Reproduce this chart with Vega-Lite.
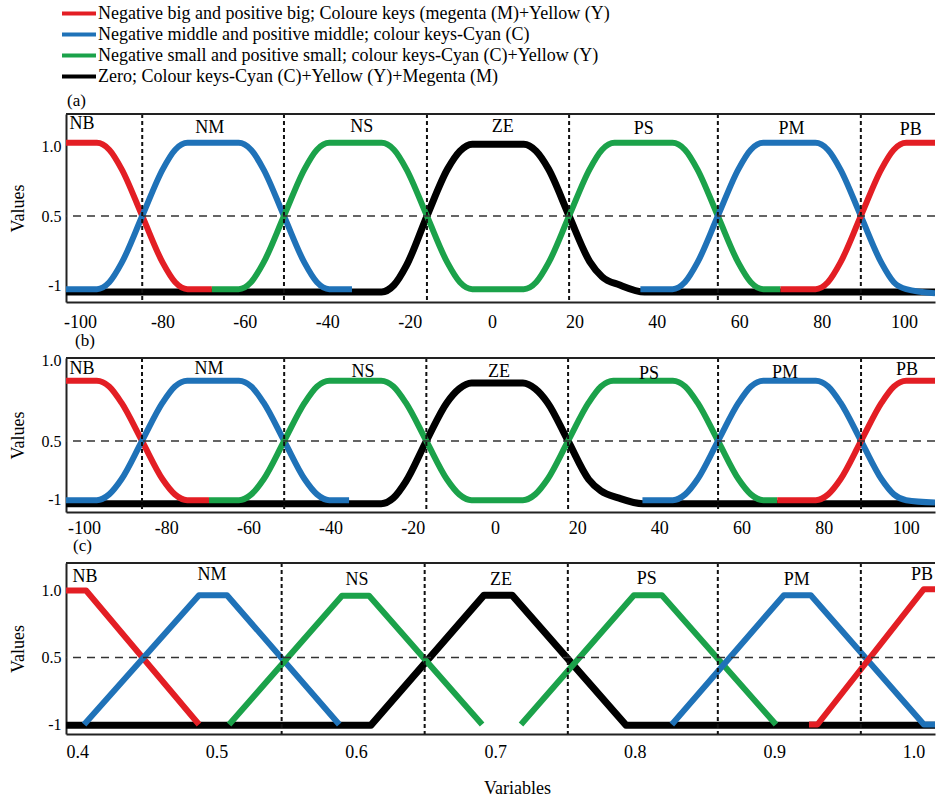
{
  "$schema": "https://vega.github.io/schema/vega-lite/v6.json",
  "padding": {"left": 9, "top": 3, "right": 0, "bottom": 0},
  "spacing": 0,
  "config": {
    "font": "Liberation Serif",
    "view": {"stroke": null},
    "axis": {"labelFont": "Liberation Serif", "titleFont": "Liberation Serif", "labelColor": "#000", "titleColor": "#000", "titleFontWeight": "normal", "grid": false, "ticks": false, "domainColor": "#222", "domainWidth": 2},
    "axisY": {"labelFontSize": 16, "titleFontSize": 18, "labelPadding": 5, "titlePadding": 14},
    "axisX": {"labelFontSize": 18, "titleFontSize": 18},
    "title": {"font": "Liberation Serif", "fontWeight": "normal", "fontSize": 17, "anchor": "start", "frame": "group", "color": "#000"},
    "legend": {"symbolType": "M-2,0H2", "symbolSize": 289, "symbolStrokeWidth": 4, "labelFont": "Liberation Serif", "labelFontSize": 18, "labelColor": "#000", "labelLimit": 0, "labelOffset": 8.5, "rowPadding": 1, "padding": 0}
  },
  "datasets": {
    "curvesA": [
      {"seg":"NB","s":"big","v":-103.4,"u":1.03},{"seg":"NB","s":"big","v":-95.9,"u":1.03},{"seg":"NB","s":"big","v":-92.9,"u":0.98},{"seg":"NB","s":"big","v":-89.9,"u":0.84},{"seg":"NB","s":"big","v":-84.9,"u":0.5},{"seg":"NB","s":"big","v":-79.9,"u":0.16},{"seg":"NB","s":"big","v":-76.9,"u":0.02},{"seg":"NB","s":"big","v":-73.9,"u":-0.03},{"seg":"NB","s":"big","v":-68,"u":-0.03},
      {"seg":"NM","s":"middle","v":-103.4,"u":-0.03},{"seg":"NM","s":"middle","v":-95.9,"u":-0.03},{"seg":"NM","s":"middle","v":-92.9,"u":0.02},{"seg":"NM","s":"middle","v":-89.9,"u":0.16},{"seg":"NM","s":"middle","v":-84.9,"u":0.5},{"seg":"NM","s":"middle","v":-79.9,"u":0.84},{"seg":"NM","s":"middle","v":-76.9,"u":0.98},{"seg":"NM","s":"middle","v":-73.9,"u":1.03},{"seg":"NM","s":"middle","v":-61.5,"u":1.03},{"seg":"NM","s":"middle","v":-58.5,"u":0.98},{"seg":"NM","s":"middle","v":-55.5,"u":0.84},{"seg":"NM","s":"middle","v":-50.5,"u":0.5},{"seg":"NM","s":"middle","v":-45.5,"u":0.16},{"seg":"NM","s":"middle","v":-42.5,"u":0.02},{"seg":"NM","s":"middle","v":-39.5,"u":-0.03},{"seg":"NM","s":"middle","v":-34,"u":-0.03},
      {"seg":"NSPS","s":"small","v":-68,"u":-0.03},{"seg":"NSPS","s":"small","v":-61.5,"u":-0.03},{"seg":"NSPS","s":"small","v":-58.5,"u":0.02},{"seg":"NSPS","s":"small","v":-55.5,"u":0.16},{"seg":"NSPS","s":"small","v":-50.5,"u":0.5},{"seg":"NSPS","s":"small","v":-45.5,"u":0.84},{"seg":"NSPS","s":"small","v":-42.5,"u":0.98},{"seg":"NSPS","s":"small","v":-39.5,"u":1.03},{"seg":"NSPS","s":"small","v":-26.8,"u":1.03},{"seg":"NSPS","s":"small","v":-23.8,"u":0.98},{"seg":"NSPS","s":"small","v":-20.8,"u":0.84},{"seg":"NSPS","s":"small","v":-15.8,"u":0.5},{"seg":"NSPS","s":"small","v":-10.8,"u":0.16},{"seg":"NSPS","s":"small","v":-7.8,"u":0.02},{"seg":"NSPS","s":"small","v":-4.8,"u":-0.03},{"seg":"NSPS","s":"small","v":7.7,"u":-0.03},{"seg":"NSPS","s":"small","v":10.7,"u":0.02},{"seg":"NSPS","s":"small","v":13.7,"u":0.16},{"seg":"NSPS","s":"small","v":18.7,"u":0.5},{"seg":"NSPS","s":"small","v":23.7,"u":0.84},{"seg":"NSPS","s":"small","v":26.7,"u":0.98},{"seg":"NSPS","s":"small","v":29.7,"u":1.03},{"seg":"NSPS","s":"small","v":43.8,"u":1.03},{"seg":"NSPS","s":"small","v":46.8,"u":0.98},{"seg":"NSPS","s":"small","v":49.8,"u":0.84},{"seg":"NSPS","s":"small","v":54.8,"u":0.5},{"seg":"NSPS","s":"small","v":59.8,"u":0.16},{"seg":"NSPS","s":"small","v":62.8,"u":0.02},{"seg":"NSPS","s":"small","v":65.8,"u":-0.03},{"seg":"NSPS","s":"small","v":70,"u":-0.03},
      {"seg":"ZE","s":"zero","v":-103.4,"u":-0.05},{"seg":"ZE","s":"zero","v":-26.8,"u":-0.05},{"seg":"ZE","s":"zero","v":-23.8,"u":0.0},{"seg":"ZE","s":"zero","v":-20.8,"u":0.14},{"seg":"ZE","s":"zero","v":-15.8,"u":0.5},{"seg":"ZE","s":"zero","v":-10.8,"u":0.84},{"seg":"ZE","s":"zero","v":-7.8,"u":0.97},{"seg":"ZE","s":"zero","v":-4.8,"u":1.02},{"seg":"ZE","s":"zero","v":7.7,"u":1.02},{"seg":"ZE","s":"zero","v":10.7,"u":0.97},{"seg":"ZE","s":"zero","v":13.7,"u":0.84},{"seg":"ZE","s":"zero","v":18.7,"u":0.5},{"seg":"ZE","s":"zero","v":23.7,"u":0.17},{"seg":"ZE","s":"zero","v":26.7,"u":0.06},{"seg":"ZE","s":"zero","v":31,"u":0.0},{"seg":"ZE","s":"zero","v":37,"u":-0.05},{"seg":"ZE","s":"zero","v":107.5,"u":-0.05},
      {"seg":"PM","s":"middle","v":36,"u":-0.03},{"seg":"PM","s":"middle","v":43.8,"u":-0.03},{"seg":"PM","s":"middle","v":46.8,"u":0.02},{"seg":"PM","s":"middle","v":49.8,"u":0.16},{"seg":"PM","s":"middle","v":54.8,"u":0.5},{"seg":"PM","s":"middle","v":59.8,"u":0.84},{"seg":"PM","s":"middle","v":62.8,"u":0.98},{"seg":"PM","s":"middle","v":65.8,"u":1.03},{"seg":"PM","s":"middle","v":78.5,"u":1.03},{"seg":"PM","s":"middle","v":81.5,"u":0.98},{"seg":"PM","s":"middle","v":84.5,"u":0.84},{"seg":"PM","s":"middle","v":89.5,"u":0.5},{"seg":"PM","s":"middle","v":94.5,"u":0.16},{"seg":"PM","s":"middle","v":97.5,"u":0.02},{"seg":"PM","s":"middle","v":100.5,"u":-0.03},{"seg":"PM","s":"middle","v":107.5,"u":-0.06},
      {"seg":"PB","s":"big","v":70,"u":-0.03},{"seg":"PB","s":"big","v":78.5,"u":-0.03},{"seg":"PB","s":"big","v":81.5,"u":0.02},{"seg":"PB","s":"big","v":84.5,"u":0.16},{"seg":"PB","s":"big","v":89.5,"u":0.5},{"seg":"PB","s":"big","v":94.5,"u":0.84},{"seg":"PB","s":"big","v":97.5,"u":0.98},{"seg":"PB","s":"big","v":100.5,"u":1.03},{"seg":"PB","s":"big","v":107.5,"u":1.03}
    ],
    "curvesB": [
      {"seg":"NB","s":"big","v":-104.4,"u":1.02},{"seg":"NB","s":"big","v":-96.9,"u":1.02},{"seg":"NB","s":"big","v":-93.9,"u":0.97},{"seg":"NB","s":"big","v":-90.9,"u":0.83},{"seg":"NB","s":"big","v":-85.9,"u":0.5},{"seg":"NB","s":"big","v":-80.9,"u":0.17},{"seg":"NB","s":"big","v":-77.9,"u":0.04},{"seg":"NB","s":"big","v":-74.9,"u":-0.01},{"seg":"NB","s":"big","v":-69.6,"u":-0.01},
      {"seg":"NM","s":"middle","v":-104.4,"u":-0.01},{"seg":"NM","s":"middle","v":-96.9,"u":-0.01},{"seg":"NM","s":"middle","v":-93.9,"u":0.04},{"seg":"NM","s":"middle","v":-90.9,"u":0.17},{"seg":"NM","s":"middle","v":-85.9,"u":0.5},{"seg":"NM","s":"middle","v":-80.9,"u":0.83},{"seg":"NM","s":"middle","v":-77.9,"u":0.97},{"seg":"NM","s":"middle","v":-74.9,"u":1.02},{"seg":"NM","s":"middle","v":-62.3,"u":1.02},{"seg":"NM","s":"middle","v":-59.3,"u":0.97},{"seg":"NM","s":"middle","v":-56.3,"u":0.83},{"seg":"NM","s":"middle","v":-51.3,"u":0.5},{"seg":"NM","s":"middle","v":-46.3,"u":0.17},{"seg":"NM","s":"middle","v":-43.3,"u":0.04},{"seg":"NM","s":"middle","v":-40.3,"u":-0.01},{"seg":"NM","s":"middle","v":-35.5,"u":-0.01},
      {"seg":"NSPS","s":"small","v":-69.6,"u":-0.01},{"seg":"NSPS","s":"small","v":-62.3,"u":-0.01},{"seg":"NSPS","s":"small","v":-59.3,"u":0.04},{"seg":"NSPS","s":"small","v":-56.3,"u":0.17},{"seg":"NSPS","s":"small","v":-51.3,"u":0.5},{"seg":"NSPS","s":"small","v":-46.3,"u":0.83},{"seg":"NSPS","s":"small","v":-43.3,"u":0.97},{"seg":"NSPS","s":"small","v":-40.3,"u":1.02},{"seg":"NSPS","s":"small","v":-27.7,"u":1.02},{"seg":"NSPS","s":"small","v":-24.7,"u":0.97},{"seg":"NSPS","s":"small","v":-21.7,"u":0.83},{"seg":"NSPS","s":"small","v":-16.7,"u":0.5},{"seg":"NSPS","s":"small","v":-11.7,"u":0.17},{"seg":"NSPS","s":"small","v":-8.7,"u":0.04},{"seg":"NSPS","s":"small","v":-5.7,"u":-0.01},{"seg":"NSPS","s":"small","v":6.8,"u":-0.01},{"seg":"NSPS","s":"small","v":9.8,"u":0.04},{"seg":"NSPS","s":"small","v":12.8,"u":0.17},{"seg":"NSPS","s":"small","v":17.8,"u":0.5},{"seg":"NSPS","s":"small","v":22.8,"u":0.83},{"seg":"NSPS","s":"small","v":25.8,"u":0.97},{"seg":"NSPS","s":"small","v":28.8,"u":1.02},{"seg":"NSPS","s":"small","v":43.3,"u":1.02},{"seg":"NSPS","s":"small","v":46.3,"u":0.97},{"seg":"NSPS","s":"small","v":49.3,"u":0.83},{"seg":"NSPS","s":"small","v":54.3,"u":0.5},{"seg":"NSPS","s":"small","v":59.3,"u":0.17},{"seg":"NSPS","s":"small","v":62.3,"u":0.04},{"seg":"NSPS","s":"small","v":65.3,"u":-0.01},{"seg":"NSPS","s":"small","v":68.7,"u":-0.01},
      {"seg":"ZE","s":"zero","v":-104.4,"u":-0.04},{"seg":"ZE","s":"zero","v":-27.7,"u":-0.04},{"seg":"ZE","s":"zero","v":-24.7,"u":0.01},{"seg":"ZE","s":"zero","v":-21.7,"u":0.15},{"seg":"ZE","s":"zero","v":-16.7,"u":0.5},{"seg":"ZE","s":"zero","v":-11.7,"u":0.83},{"seg":"ZE","s":"zero","v":-8.7,"u":0.95},{"seg":"ZE","s":"zero","v":-5.7,"u":1.0},{"seg":"ZE","s":"zero","v":6.8,"u":1.0},{"seg":"ZE","s":"zero","v":9.8,"u":0.95},{"seg":"ZE","s":"zero","v":12.8,"u":0.83},{"seg":"ZE","s":"zero","v":17.8,"u":0.5},{"seg":"ZE","s":"zero","v":22.8,"u":0.17},{"seg":"ZE","s":"zero","v":25.8,"u":0.07},{"seg":"ZE","s":"zero","v":30,"u":0.01},{"seg":"ZE","s":"zero","v":36,"u":-0.04},{"seg":"ZE","s":"zero","v":107.1,"u":-0.04},
      {"seg":"PM","s":"middle","v":35.9,"u":-0.01},{"seg":"PM","s":"middle","v":43.3,"u":-0.01},{"seg":"PM","s":"middle","v":46.3,"u":0.04},{"seg":"PM","s":"middle","v":49.3,"u":0.17},{"seg":"PM","s":"middle","v":54.3,"u":0.5},{"seg":"PM","s":"middle","v":59.3,"u":0.83},{"seg":"PM","s":"middle","v":62.3,"u":0.97},{"seg":"PM","s":"middle","v":65.3,"u":1.02},{"seg":"PM","s":"middle","v":78.1,"u":1.02},{"seg":"PM","s":"middle","v":81.1,"u":0.97},{"seg":"PM","s":"middle","v":84.1,"u":0.83},{"seg":"PM","s":"middle","v":89.1,"u":0.5},{"seg":"PM","s":"middle","v":94.1,"u":0.17},{"seg":"PM","s":"middle","v":97.1,"u":0.04},{"seg":"PM","s":"middle","v":100.1,"u":-0.01},{"seg":"PM","s":"middle","v":107.1,"u":-0.03},
      {"seg":"PB","s":"big","v":68.7,"u":-0.01},{"seg":"PB","s":"big","v":78.1,"u":-0.01},{"seg":"PB","s":"big","v":81.1,"u":0.04},{"seg":"PB","s":"big","v":84.1,"u":0.17},{"seg":"PB","s":"big","v":89.1,"u":0.5},{"seg":"PB","s":"big","v":94.1,"u":0.83},{"seg":"PB","s":"big","v":97.1,"u":0.97},{"seg":"PB","s":"big","v":100.1,"u":1.02},{"seg":"PB","s":"big","v":107.1,"u":1.02}
    ],
    "curvesC": [
      {"seg":"NB","s":"big","v":0.392,"u":1.0},{"seg":"NB","s":"big","v":0.4064,"u":1.0},{"seg":"NB","s":"big","v":0.4874,"u":0.0},
      {"seg":"NM","s":"middle","v":0.405,"u":0.0},{"seg":"NM","s":"middle","v":0.4874,"u":0.965},{"seg":"NM","s":"middle","v":0.5075,"u":0.965},{"seg":"NM","s":"middle","v":0.588,"u":0.0},
      {"seg":"NS","s":"small","v":0.509,"u":0.0},{"seg":"NS","s":"small","v":0.59,"u":0.96},{"seg":"NS","s":"small","v":0.6094,"u":0.96},{"seg":"NS","s":"small","v":0.6905,"u":0.0},
      {"seg":"ZE","s":"zero","v":0.392,"u":-0.005},{"seg":"ZE","s":"zero","v":0.6108,"u":-0.005},{"seg":"ZE","s":"zero","v":0.6919,"u":0.965},{"seg":"ZE","s":"zero","v":0.712,"u":0.965},{"seg":"ZE","s":"zero","v":0.7937,"u":-0.005},{"seg":"ZE","s":"zero","v":1.0154,"u":-0.005},
      {"seg":"PS","s":"small","v":0.7184,"u":0.0},{"seg":"PS","s":"small","v":0.7994,"u":0.965},{"seg":"PS","s":"small","v":0.8195,"u":0.965},{"seg":"PS","s":"small","v":0.9013,"u":0.0},
      {"seg":"PM","s":"middle","v":0.8266,"u":0.0},{"seg":"PM","s":"middle","v":0.907,"u":0.965},{"seg":"PM","s":"middle","v":0.9263,"u":0.965},{"seg":"PM","s":"middle","v":1.0074,"u":0.0},{"seg":"PM","s":"middle","v":1.0154,"u":0.0},
      {"seg":"PB","s":"big","v":0.925,"u":0.0},{"seg":"PB","s":"big","v":0.9311,"u":0.0},{"seg":"PB","s":"big","v":1.0074,"u":1.01},{"seg":"PB","s":"big","v":1.0154,"u":1.01}
    ],
    "vA": [{"v":-84.9},{"v":-50.5},{"v":-15.8},{"v":18.7},{"v":54.8},{"v":89.5}],
    "vB": [{"v":-85.9},{"v":-51.3},{"v":-16.7},{"v":17.8},{"v":54.3},{"v":89.1}],
    "vC": [{"v":0.5467},{"v":0.6493},{"v":0.752},{"v":0.8596},{"v":0.9622}],
    "labA": [{"t":"NB","v":-99.5,"u":1.17},{"t":"NM","v":-68.5,"u":1.14},{"t":"NS","v":-31.6,"u":1.145},{"t":"ZE","v":2.6,"u":1.145},{"t":"PS","v":36.8,"u":1.13},{"t":"PM","v":72.7,"u":1.13},{"t":"PB","v":101.6,"u":1.125}],
    "labB": [{"t":"NB","v":-100.5,"u":1.12},{"t":"NM","v":-69.6,"u":1.12},{"t":"NS","v":-32.1,"u":1.095},{"t":"ZE","v":1.0,"u":1.095},{"t":"PS","v":37.5,"u":1.08},{"t":"PM","v":70.6,"u":1.086},{"t":"PB","v":100.3,"u":1.11}],
    "labC": [{"t":"NB","v":0.4057,"u":1.1},{"t":"NM","v":0.4968,"u":1.116},{"t":"NS","v":0.6008,"u":1.078},{"t":"ZE","v":0.7041,"u":1.078},{"t":"PS","v":0.8087,"u":1.086},{"t":"PM","v":0.9163,"u":1.078},{"t":"PB","v":1.006,"u":1.116}]
  },
  "vconcat": [
    {
      "title": {"text": "(a)", "offset": 3, "dx": 1},
      "width": 869, "height": 188,
      "layer": [
        {
          "data": {"name": "curvesA"},
          "transform": [{"filter": "datum.s == 'zero'"}],
          "mark": {"type": "line", "interpolate": "monotone", "strokeWidth": 7, "clip": true, "strokeJoin": "round"},
          "encoding": {
            "x": {"field": "v", "type": "quantitative", "scale": {"domain": [-103.4, 107.5], "nice": false, "zero": false}, "axis": {"values": [-100,-80,-60,-40,-20,0,20,40,60,80,100], "labelExpr": "'' + datum.value", "labelPadding": 11, "title": null}},
            "y": {"field": "u", "type": "quantitative", "scale": {"domain": [-0.123, 1.239], "nice": false, "zero": false}, "axis": {"values": [0, 0.5, 1], "labelExpr": "datum.value == 0 ? '-1' : datum.value == 0.5 ? '0.5' : '1.0'", "title": "Values"}},
            "detail": {"field": "seg"},
            "color": {"field": "s", "type": "nominal", "scale": {"domain": ["big","middle","small","zero"], "range": ["#e31e24","#1f72b8","#1ba24a","#000000"]}, "legend": {"title": null, "orient": "none", "legendX": 2.5, "legendY": -111, "direction": "vertical", "labelExpr": "datum.label == 'big' ? 'Negative big and positive big; Coloure keys (megenta (M)+Yellow (Y)' : datum.label == 'middle' ? 'Negative middle and positive middle; colour keys-Cyan (C)' : datum.label == 'small' ? 'Negative small and positive small; colour keys-Cyan (C)+Yellow (Y)' : 'Zero; Colour keys-Cyan (C)+Yellow (Y)+Megenta (M)'"}}
          }
        },
        {
          "data": {"name": "curvesA"},
          "transform": [{"filter": "datum.s != 'zero'"}],
          "mark": {"type": "line", "interpolate": "monotone", "strokeWidth": 6, "clip": true, "strokeJoin": "round"},
          "encoding": {
            "x": {"field": "v", "type": "quantitative", "scale": {"domain": [-103.4, 107.5], "nice": false, "zero": false}, "axis": {"values": [-100,-80,-60,-40,-20,0,20,40,60,80,100], "labelExpr": "'' + datum.value", "labelPadding": 11, "title": null}},
            "y": {"field": "u", "type": "quantitative", "scale": {"domain": [-0.123, 1.239], "nice": false, "zero": false}, "axis": {"values": [0, 0.5, 1], "labelExpr": "datum.value == 0 ? '-1' : datum.value == 0.5 ? '0.5' : '1.0'", "title": "Values"}},
            "detail": {"field": "seg"},
            "color": {"field": "s", "type": "nominal", "scale": {"domain": ["big","middle","small","zero"], "range": ["#e31e24","#1f72b8","#1ba24a","#000000"]}, "legend": {"title": null, "orient": "none", "legendX": 2.5, "legendY": -111, "direction": "vertical", "labelExpr": "datum.label == 'big' ? 'Negative big and positive big; Coloure keys (megenta (M)+Yellow (Y)' : datum.label == 'middle' ? 'Negative middle and positive middle; colour keys-Cyan (C)' : datum.label == 'small' ? 'Negative small and positive small; colour keys-Cyan (C)+Yellow (Y)' : 'Zero; Colour keys-Cyan (C)+Yellow (Y)+Megenta (M)'"}}
          }
        },
        {
          "data": {"name": "vA"},
          "mark": {"type": "rule", "strokeDash": [4, 3], "strokeWidth": 2, "color": "#111"},
          "encoding": {"x": {"field": "v", "type": "quantitative", "scale": {"domain": [-103.4, 107.5], "nice": false, "zero": false}, "axis": {"values": [-100,-80,-60,-40,-20,0,20,40,60,80,100], "labelExpr": "'' + datum.value", "labelPadding": 11, "title": null}}}
        },
        {
          "data": {"values": [{}]},
          "mark": {"type": "rule", "strokeDash": [8, 6], "strokeWidth": 1.5, "color": "#333"},
          "encoding": {"y": {"datum": 0.5, "type": "quantitative", "scale": {"domain": [-0.123, 1.239], "nice": false, "zero": false}, "axis": {"values": [0, 0.5, 1], "labelExpr": "datum.value == 0 ? '-1' : datum.value == 0.5 ? '0.5' : '1.0'", "title": "Values"}}}
        },
        {
          "data": {"values": [{}]},
          "mark": {"type": "rule", "strokeWidth": 2, "color": "#222"},
          "encoding": {"y": {"datum": 1.239, "type": "quantitative", "scale": {"domain": [-0.123, 1.239], "nice": false, "zero": false}, "axis": {"values": [0, 0.5, 1], "labelExpr": "datum.value == 0 ? '-1' : datum.value == 0.5 ? '0.5' : '1.0'", "title": "Values"}}}
        },
        {
          "data": {"name": "labA"},
          "mark": {"type": "text", "font": "Liberation Serif", "fontSize": 18, "color": "#000", "baseline": "middle"},
          "encoding": {
            "x": {"field": "v", "type": "quantitative", "scale": {"domain": [-103.4, 107.5], "nice": false, "zero": false}, "axis": {"values": [-100,-80,-60,-40,-20,0,20,40,60,80,100], "labelExpr": "'' + datum.value", "labelPadding": 11, "title": null}},
            "y": {"field": "u", "type": "quantitative", "scale": {"domain": [-0.123, 1.239], "nice": false, "zero": false}, "axis": {"values": [0, 0.5, 1], "labelExpr": "datum.value == 0 ? '-1' : datum.value == 0.5 ? '0.5' : '1.0'", "title": "Values"}},
            "text": {"field": "t"}
          }
        }
      ]
    },
    {
      "title": {"text": "(b)", "offset": 3, "dx": 9},
      "width": 869, "height": 154,
      "layer": [
        {
          "data": {"name": "curvesB"},
          "transform": [{"filter": "datum.s == 'zero'"}],
          "mark": {"type": "line", "interpolate": "monotone", "strokeWidth": 7, "clip": true, "strokeJoin": "round"},
          "encoding": {
            "x": {"field": "v", "type": "quantitative", "scale": {"domain": [-104.4, 107.1], "nice": false, "zero": false}, "axis": {"values": [-100,-80,-60,-40,-20,0,20,40,60,80,100], "labelExpr": "'' + datum.value", "labelPadding": 7, "title": null}},
            "y": {"field": "u", "type": "quantitative", "scale": {"domain": [-0.112, 1.2155], "nice": false, "zero": false}, "axis": {"values": [0, 0.5, 1.19], "labelExpr": "datum.value == 0 ? '-1' : datum.value == 0.5 ? '0.5' : '1.0'", "title": "Values"}},
            "detail": {"field": "seg"},
            "color": {"field": "s", "type": "nominal", "scale": {"domain": ["big","middle","small","zero"], "range": ["#e31e24","#1f72b8","#1ba24a","#000000"]}, "legend": {"title": null, "orient": "none", "legendX": 2.5, "legendY": -111, "direction": "vertical", "labelExpr": "datum.label == 'big' ? 'Negative big and positive big; Coloure keys (megenta (M)+Yellow (Y)' : datum.label == 'middle' ? 'Negative middle and positive middle; colour keys-Cyan (C)' : datum.label == 'small' ? 'Negative small and positive small; colour keys-Cyan (C)+Yellow (Y)' : 'Zero; Colour keys-Cyan (C)+Yellow (Y)+Megenta (M)'"}}
          }
        },
        {
          "data": {"name": "curvesB"},
          "transform": [{"filter": "datum.s != 'zero'"}],
          "mark": {"type": "line", "interpolate": "monotone", "strokeWidth": 6, "clip": true, "strokeJoin": "round"},
          "encoding": {
            "x": {"field": "v", "type": "quantitative", "scale": {"domain": [-104.4, 107.1], "nice": false, "zero": false}, "axis": {"values": [-100,-80,-60,-40,-20,0,20,40,60,80,100], "labelExpr": "'' + datum.value", "labelPadding": 7, "title": null}},
            "y": {"field": "u", "type": "quantitative", "scale": {"domain": [-0.112, 1.2155], "nice": false, "zero": false}, "axis": {"values": [0, 0.5, 1.19], "labelExpr": "datum.value == 0 ? '-1' : datum.value == 0.5 ? '0.5' : '1.0'", "title": "Values"}},
            "detail": {"field": "seg"},
            "color": {"field": "s", "type": "nominal", "scale": {"domain": ["big","middle","small","zero"], "range": ["#e31e24","#1f72b8","#1ba24a","#000000"]}, "legend": {"title": null, "orient": "none", "legendX": 2.5, "legendY": -111, "direction": "vertical", "labelExpr": "datum.label == 'big' ? 'Negative big and positive big; Coloure keys (megenta (M)+Yellow (Y)' : datum.label == 'middle' ? 'Negative middle and positive middle; colour keys-Cyan (C)' : datum.label == 'small' ? 'Negative small and positive small; colour keys-Cyan (C)+Yellow (Y)' : 'Zero; Colour keys-Cyan (C)+Yellow (Y)+Megenta (M)'"}}
          }
        },
        {
          "data": {"name": "vB"},
          "mark": {"type": "rule", "strokeDash": [4, 3], "strokeWidth": 2, "color": "#111"},
          "encoding": {"x": {"field": "v", "type": "quantitative", "scale": {"domain": [-104.4, 107.1], "nice": false, "zero": false}, "axis": {"values": [-100,-80,-60,-40,-20,0,20,40,60,80,100], "labelExpr": "'' + datum.value", "labelPadding": 7, "title": null}}}
        },
        {
          "data": {"values": [{}]},
          "mark": {"type": "rule", "strokeDash": [8, 6], "strokeWidth": 1.5, "color": "#333"},
          "encoding": {"y": {"datum": 0.5, "type": "quantitative", "scale": {"domain": [-0.112, 1.2155], "nice": false, "zero": false}, "axis": {"values": [0, 0.5, 1.19], "labelExpr": "datum.value == 0 ? '-1' : datum.value == 0.5 ? '0.5' : '1.0'", "title": "Values"}}}
        },
        {
          "data": {"values": [{}]},
          "mark": {"type": "rule", "strokeWidth": 2, "color": "#222"},
          "encoding": {"y": {"datum": 1.2155, "type": "quantitative", "scale": {"domain": [-0.112, 1.2155], "nice": false, "zero": false}, "axis": {"values": [0, 0.5, 1.19], "labelExpr": "datum.value == 0 ? '-1' : datum.value == 0.5 ? '0.5' : '1.0'", "title": "Values"}}}
        },
        {
          "data": {"name": "labB"},
          "mark": {"type": "text", "font": "Liberation Serif", "fontSize": 18, "color": "#000", "baseline": "middle"},
          "encoding": {
            "x": {"field": "v", "type": "quantitative", "scale": {"domain": [-104.4, 107.1], "nice": false, "zero": false}, "axis": {"values": [-100,-80,-60,-40,-20,0,20,40,60,80,100], "labelExpr": "'' + datum.value", "labelPadding": 7, "title": null}},
            "y": {"field": "u", "type": "quantitative", "scale": {"domain": [-0.112, 1.2155], "nice": false, "zero": false}, "axis": {"values": [0, 0.5, 1.19], "labelExpr": "datum.value == 0 ? '-1' : datum.value == 0.5 ? '0.5' : '1.0'", "title": "Values"}},
            "text": {"field": "t"}
          }
        }
      ]
    },
    {
      "title": {"text": "(c)", "offset": 7, "dx": 7},
      "width": 869, "height": 171,
      "layer": [
        {
          "data": {"name": "curvesC"},
          "transform": [{"filter": "datum.s == 'zero'"}],
          "mark": {"type": "line", "interpolate": "linear", "strokeWidth": 7, "clip": true, "strokeJoin": "round"},
          "encoding": {
            "x": {"field": "v", "type": "quantitative", "scale": {"domain": [0.392, 1.0154], "nice": false, "zero": false}, "axis": {"values": [0.4,0.5,0.6,0.7,0.8,0.9,1.0], "labelExpr": "format(datum.value, '.1f')", "labelPadding": 9, "title": "Variables", "titlePadding": 18, "titleX": 451}},
            "y": {"field": "u", "type": "quantitative", "scale": {"domain": [-0.0709, 1.205], "nice": false, "zero": false}, "axis": {"values": [0, 0.5, 1], "labelExpr": "datum.value == 0 ? '-1' : datum.value == 0.5 ? '0.5' : '1.0'", "title": "Values"}},
            "detail": {"field": "seg"},
            "color": {"field": "s", "type": "nominal", "scale": {"domain": ["big","middle","small","zero"], "range": ["#e31e24","#1f72b8","#1ba24a","#000000"]}, "legend": {"title": null, "orient": "none", "legendX": 2.5, "legendY": -111, "direction": "vertical", "labelExpr": "datum.label == 'big' ? 'Negative big and positive big; Coloure keys (megenta (M)+Yellow (Y)' : datum.label == 'middle' ? 'Negative middle and positive middle; colour keys-Cyan (C)' : datum.label == 'small' ? 'Negative small and positive small; colour keys-Cyan (C)+Yellow (Y)' : 'Zero; Colour keys-Cyan (C)+Yellow (Y)+Megenta (M)'"}}
          }
        },
        {
          "data": {"name": "curvesC"},
          "transform": [{"filter": "datum.s != 'zero'"}],
          "mark": {"type": "line", "interpolate": "linear", "strokeWidth": 6, "clip": true, "strokeJoin": "round"},
          "encoding": {
            "x": {"field": "v", "type": "quantitative", "scale": {"domain": [0.392, 1.0154], "nice": false, "zero": false}, "axis": {"values": [0.4,0.5,0.6,0.7,0.8,0.9,1.0], "labelExpr": "format(datum.value, '.1f')", "labelPadding": 9, "title": "Variables", "titlePadding": 18, "titleX": 451}},
            "y": {"field": "u", "type": "quantitative", "scale": {"domain": [-0.0709, 1.205], "nice": false, "zero": false}, "axis": {"values": [0, 0.5, 1], "labelExpr": "datum.value == 0 ? '-1' : datum.value == 0.5 ? '0.5' : '1.0'", "title": "Values"}},
            "detail": {"field": "seg"},
            "color": {"field": "s", "type": "nominal", "scale": {"domain": ["big","middle","small","zero"], "range": ["#e31e24","#1f72b8","#1ba24a","#000000"]}, "legend": {"title": null, "orient": "none", "legendX": 2.5, "legendY": -111, "direction": "vertical", "labelExpr": "datum.label == 'big' ? 'Negative big and positive big; Coloure keys (megenta (M)+Yellow (Y)' : datum.label == 'middle' ? 'Negative middle and positive middle; colour keys-Cyan (C)' : datum.label == 'small' ? 'Negative small and positive small; colour keys-Cyan (C)+Yellow (Y)' : 'Zero; Colour keys-Cyan (C)+Yellow (Y)+Megenta (M)'"}}
          }
        },
        {
          "data": {"name": "vC"},
          "mark": {"type": "rule", "strokeDash": [4, 3], "strokeWidth": 2, "color": "#111"},
          "encoding": {"x": {"field": "v", "type": "quantitative", "scale": {"domain": [0.392, 1.0154], "nice": false, "zero": false}, "axis": {"values": [0.4,0.5,0.6,0.7,0.8,0.9,1.0], "labelExpr": "format(datum.value, '.1f')", "labelPadding": 9, "title": "Variables", "titlePadding": 18, "titleX": 451}}}
        },
        {
          "data": {"values": [{}]},
          "mark": {"type": "rule", "strokeDash": [8, 6], "strokeWidth": 1.5, "color": "#333"},
          "encoding": {"y": {"datum": 0.5, "type": "quantitative", "scale": {"domain": [-0.0709, 1.205], "nice": false, "zero": false}, "axis": {"values": [0, 0.5, 1], "labelExpr": "datum.value == 0 ? '-1' : datum.value == 0.5 ? '0.5' : '1.0'", "title": "Values"}}}
        },
        {
          "data": {"values": [{}]},
          "mark": {"type": "rule", "strokeWidth": 2, "color": "#222"},
          "encoding": {"y": {"datum": 1.205, "type": "quantitative", "scale": {"domain": [-0.0709, 1.205], "nice": false, "zero": false}, "axis": {"values": [0, 0.5, 1], "labelExpr": "datum.value == 0 ? '-1' : datum.value == 0.5 ? '0.5' : '1.0'", "title": "Values"}}}
        },
        {
          "data": {"name": "labC"},
          "mark": {"type": "text", "font": "Liberation Serif", "fontSize": 18, "color": "#000", "baseline": "middle"},
          "encoding": {
            "x": {"field": "v", "type": "quantitative", "scale": {"domain": [0.392, 1.0154], "nice": false, "zero": false}, "axis": {"values": [0.4,0.5,0.6,0.7,0.8,0.9,1.0], "labelExpr": "format(datum.value, '.1f')", "labelPadding": 9, "title": "Variables", "titlePadding": 18, "titleX": 451}},
            "y": {"field": "u", "type": "quantitative", "scale": {"domain": [-0.0709, 1.205], "nice": false, "zero": false}, "axis": {"values": [0, 0.5, 1], "labelExpr": "datum.value == 0 ? '-1' : datum.value == 0.5 ? '0.5' : '1.0'", "title": "Values"}},
            "text": {"field": "t"}
          }
        }
      ]
    }
  ]
}
